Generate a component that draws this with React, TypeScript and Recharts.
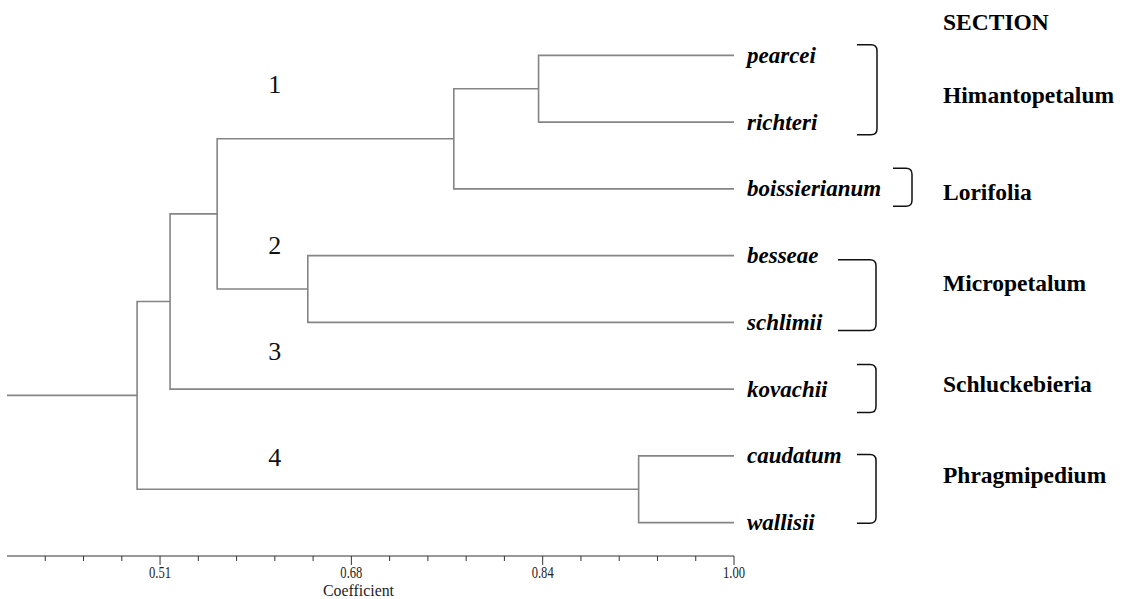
import { ComposedChart, Line, Scatter, XAxis, YAxis, ReferenceArea } from 'recharts';

// leaves, top to bottom
const species = ['pearcei', 'richteri', 'boissierianum', 'besseae', 'schlimii', 'kovachii', 'caudatum', 'wallisii'];

// merges: ids 0-7 are the leaves, merge k creates node 8 + k
const mergeLeft = [0, 3, 6, 8, 11, 12, 13];
const mergeRight = [1, 4, 7, 2, 9, 5, 10];
const mergeHeight = [0.834, 0.638, 0.919, 0.762, 0.561, 0.521, 0.493];

const sections = ['Himantopetalum', 'Lorifolia', 'Micropetalum', 'Schluckebieria', 'Phragmipedium'];
const sectionFirst = [0, 2, 3, 5, 6];
const sectionLast = [1, 2, 4, 5, 7];

const clusterNames = ['1', '2', '3', '4'];
const clusterCoef = [0.61, 0.61, 0.61, 0.61];
const clusterRow = [0.44, 2.85, 4.44, 6.03];

const coefTicks = [
  0.415, 0.4475, 0.48, 0.5125, 0.545, 0.5775, 0.61, 0.6425, 0.675, 0.7075,
  0.74, 0.7725, 0.805, 0.8375, 0.87, 0.9025, 0.935, 0.9675, 1.0,
];
const majorTicks = [0.5125, 0.675, 0.8375, 1.0];
const majorLabels = ['0.51', '0.68', '0.84', '1.00'];

const COEF_MIN = 0.3825;
const COEF_MAX = 1.0;

const SERIF = '"Liberation Serif", "Times New Roman", serif';
const BRANCH = '#858585';

// bracket layout, px offsets from the leaf tips and padding in rows
const bracketStyle: Record<string, { a: number; b: number; top: number; bottom: number; dy: number }> = {
  Himantopetalum: { a: 123, b: 143, top: -0.16, bottom: 0.19, dy: 5 },
  Lorifolia: { a: 159, b: 178, top: -0.31, bottom: 0.26, dy: 5 },
  Micropetalum: { a: 104, b: 142, top: 0.06, bottom: 0.12, dy: -12 },
  Schluckebieria: { a: 123, b: 142, top: -0.37, bottom: 0.35, dy: -4 },
  Phragmipedium: { a: 123, b: 142, top: -0.02, bottom: 0.01, dy: -14 },
};
const LABEL_OFFSET = 209;

type Pos = { h: number; y: number };

function buildTree() {
  const pos: Pos[] = species.map((_, i) => ({ h: COEF_MAX, y: i }));
  const segments: { x: number; y: number }[][] = [];
  mergeHeight.forEach((h, k) => {
    const l = pos[mergeLeft[k]];
    const r = pos[mergeRight[k]];
    segments.push([
      { x: l.h, y: l.y },
      { x: h, y: l.y },
      { x: h, y: r.y },
      { x: r.h, y: r.y },
    ]);
    pos.push({ h, y: (l.y + r.y) / 2 });
  });
  const root = pos[pos.length - 1];
  segments.push([
    { x: COEF_MIN, y: root.y },
    { x: root.h, y: root.y },
  ]);
  return segments;
}

const segments = buildTree();
const clusterData = clusterNames.map((label, i) => ({ x: clusterCoef[i], y: clusterRow[i], label }));

function CoefTick({ x, y, payload }: any) {
  const i = majorTicks.indexOf(payload.value);
  const major = i >= 0;
  return (
    <g>
      <line x1={x} x2={x} y1={y} y2={y + (major ? 9 : 5)} stroke="#333" strokeWidth={1} />
      {major && (
        <text
          x={x}
          y={y + 16}
          textAnchor="middle"
          dominantBaseline="central"
          fontFamily={SERIF}
          fontSize={16}
          textLength={22}
          lengthAdjust="spacingAndGlyphs"
          fill="#222"
        >
          {majorLabels[i]}
        </text>
      )}
    </g>
  );
}

function SpeciesTick({ x, y, payload }: any) {
  return (
    <text
      x={x + 13}
      y={y}
      dominantBaseline="central"
      fontFamily={SERIF}
      fontWeight="bold"
      fontStyle="italic"
      fontSize={23}
      fill="#000"
    >
      {species[payload.value]}
    </text>
  );
}

function bracketShape(name: string) {
  const s = bracketStyle[name];
  return (props: any) => {
    const { x, y, height } = props;
    const x0 = x + s.a;
    const x1 = x + s.b;
    const yb = y + height;
    const r = 6;
    const d = `M${x0},${y} L${x1 - r},${y} Q${x1},${y} ${x1},${y + r} L${x1},${yb - r} Q${x1},${yb} ${x1 - r},${yb} L${x0},${yb}`;
    return (
      <g>
        <path d={d} fill="none" stroke="#111" strokeWidth={1.5} />
        <text
          x={x + LABEL_OFFSET}
          y={y + height / 2 + s.dy}
          dominantBaseline="central"
          fontFamily={SERIF}
          fontWeight="bold"
          fontSize={23.5}
          fill="#000"
        >
          {name}
        </text>
      </g>
    );
  };
}

export default function App() {
  return (
    <div style={{ position: 'absolute', left: 0, top: 0, background: '#fff' }}>
      <ComposedChart width={1128} height={599} margin={{ top: 22, right: 0, bottom: 0, left: 7 }}>
        <XAxis
          type="number"
          dataKey="x"
          domain={[COEF_MIN, COEF_MAX]}
          ticks={coefTicks}
          interval={0}
          tickSize={0}
          tickMargin={0}
          tickLine={false}
          axisLine={{ stroke: '#333', strokeWidth: 1 }}
          height={43}
          tick={CoefTick}
          label={(p: any) => {
            const vb = p.viewBox;
            return (
              <text
                x={vb.x + vb.width / 2 - 12}
                y={vb.y + 34}
                textAnchor="middle"
                dominantBaseline="central"
                fontFamily={SERIF}
                fontSize={16}
                textLength={71}
                lengthAdjust="spacingAndGlyphs"
                fill="#222"
              >
                Coefficient
              </text>
            );
          }}
        />
        <YAxis
          type="number"
          dataKey="y"
          orientation="right"
          domain={[-0.5, 7.5]}
          reversed
          ticks={species.map((_, i) => i)}
          interval={0}
          width={394}
          axisLine={false}
          tickLine={false}
          tickSize={0}
          tickMargin={0}
          tick={SpeciesTick}
        />
        {segments.map((seg, i) => (
          <Line
            key={i}
            data={seg}
            dataKey="y"
            type="linear"
            stroke={BRANCH}
            strokeWidth={1.6}
            dot={false}
            activeDot={false}
            isAnimationActive={false}
          />
        ))}
        <Scatter
          data={clusterData}
          dataKey="y"
          isAnimationActive={false}
          shape={(p: any) => (
            <text
              x={p.cx}
              y={p.cy}
              textAnchor="middle"
              dominantBaseline="central"
              fontFamily={SERIF}
              fontSize={26}
              fill="#111"
            >
              {p.payload.label}
            </text>
          )}
        />
        {sections.map((name, i) => (
          <ReferenceArea
            key={name}
            x1={COEF_MAX}
            x2={COEF_MAX}
            y1={sectionFirst[i] + bracketStyle[name].top}
            y2={sectionLast[i] + bracketStyle[name].bottom}
            ifOverflow="visible"
            shape={bracketShape(name)}
          />
        ))}
        <text
          x={734 + LABEL_OFFSET}
          y={22}
          dominantBaseline="central"
          fontFamily={SERIF}
          fontWeight="bold"
          fontSize={23.5}
          fill="#000"
        >
          SECTION
        </text>
      </ComposedChart>
    </div>
  );
}
